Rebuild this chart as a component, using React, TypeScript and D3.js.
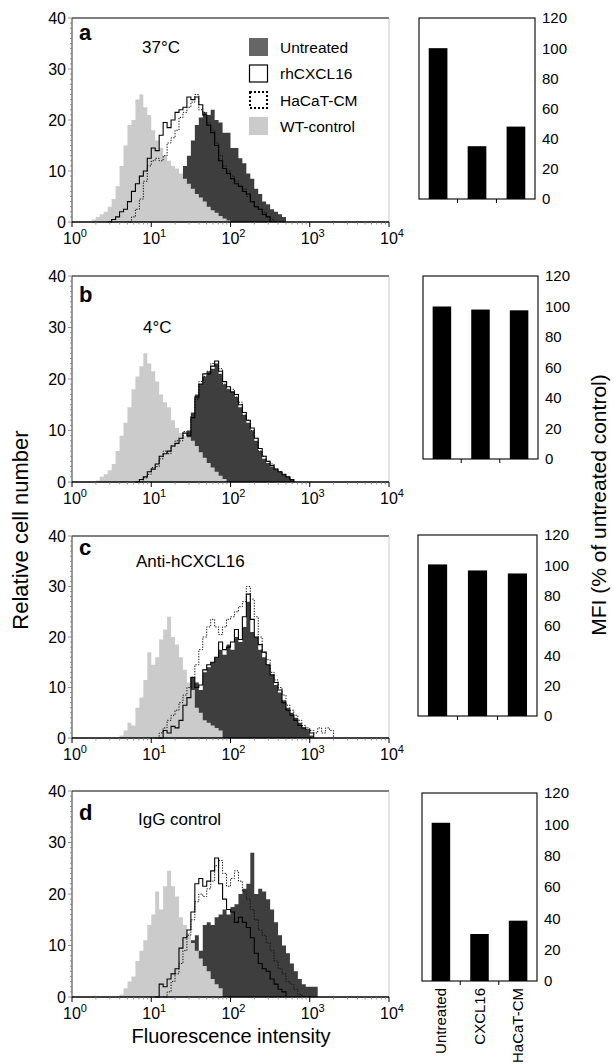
import * as React from "react"
import * as d3 from "d3"

const WIDTH = 614
const HEIGHT = 1064
const FONT = "'Liberation Sans', Arial, Helvetica, sans-serif"

// histogram channels are 0.05 decade wide; *From = log10 of the first channel
const STEP = 0.05

// panel a, 37°C
const aUntreatedFrom = 1.0
const aUntreated = [1, 1.5, 2, 3, 4, 5.5, 7, 9, 11, 13, 16, 19, 20.5, 21.5, 21, 22, 20, 19.5, 17.5, 17.5, 14.5, 14.5, 12.5, 11.5, 9.5, 8.5, 6.5, 5.5, 4, 3.5, 2.5, 2, 1.5, 1, 0]
const aRhFrom = 0.45
const aRh = [0, 0.5, 1, 2, 2.5, 4, 6, 7.5, 9, 10, 12.5, 14.5, 14, 17, 19.5, 18.5, 20, 21.5, 22, 22.5, 24.5, 24, 24.5, 23, 21, 19, 17.5, 15, 12, 10.5, 9.5, 8.5, 7.5, 7, 6, 5.5, 4, 3, 2.5, 1.5, 1, 0]
const aHacatFrom = 0.7
const aHacat = [0, 1, 2.5, 4.5, 8, 11, 12, 12.5, 12, 13, 15.5, 16.5, 18, 20.5, 21.5, 22.5, 23.5, 25, 22, 21.5, 19.5, 18, 15.5, 13, 11, 10, 9, 8, 7, 6.5, 5, 4, 3, 2.5, 2, 1, 0.5, 0]
const aWtFrom = 0.25
const aWt = [0.5, 1, 1.5, 2, 3, 4.5, 7, 11, 15, 19, 20, 24, 25, 22.5, 21, 18, 16, 14.5, 13, 12, 11, 10.5, 9.5, 8.5, 7.5, 6.5, 5.5, 4.8, 4, 3, 2.3, 1.8, 1.2, 0.7, 0.3, 0]

// panel b, 4°C
const bUntreatedFrom = 1.0
const bUntreated = [0.5, 1, 2, 3, 4, 5, 6, 7.5, 8.5, 10, 13.5, 17, 19, 20.5, 21.5, 22, 23, 21, 19, 18, 17.5, 16.5, 14.5, 13, 11.5, 10, 8, 6, 4.5, 3.7, 3, 2.5, 2, 1.5, 1, 0.5, 0]
const bRhFrom = 0.8
const bRh = [0, 0.5, 1, 2, 2.5, 3.5, 5, 5.5, 6, 7, 7.5, 8.5, 9.5, 9, 12.5, 16.5, 19, 21, 21, 22.5, 23.5, 21.5, 19.5, 18.5, 17.5, 17, 15, 13.5, 12, 10.5, 8.5, 6.5, 5, 4, 3.2, 2.5, 2, 1.5, 1, 0.5, 0]
const bHacatFrom = 0.85
const bHacat = [0, 0.8, 1.5, 2.8, 3, 4.5, 6, 5.5, 7, 8, 8, 9.8, 9.5, 13, 16, 19.5, 20.5, 21.5, 23, 22.5, 22, 19, 18, 18, 16.5, 15.5, 13, 12, 10, 8.5, 6, 5, 4, 3.5, 2.5, 2, 1.3, 1, 0.3, 0]
const bWtFrom = 0.3
const bWt = [0.3, 1, 1.5, 2.3, 3.5, 6, 9, 11.5, 14.5, 18, 20.5, 22.5, 25, 23, 21.5, 19.5, 17, 15.5, 14.5, 12, 10.5, 9.5, 9, 8.7, 8, 7, 5.8, 4.7, 3.7, 2.8, 2, 1.2, 0.6, 0]

// panel c, Anti-hCXCL16
const cUntreatedFrom = 1.2
const cUntreated = [1, 2, 3, 4.5, 6, 8, 12, 11, 9.5, 13, 14, 15, 16, 17.5, 16.5, 18.5, 17.5, 20, 19, 22, 27, 21, 20, 17.5, 16, 14.5, 12.5, 10.5, 9, 7.5, 6, 5, 4, 3, 2, 1.5, 0.5, 0]
const cRhFrom = 1.1
const cRh = [0, 1.5, 1, 2.3, 2, 3.5, 6.5, 8, 12, 10, 10.5, 13.5, 14.5, 15, 16, 19, 17.5, 18, 19, 21.5, 19.5, 24, 28.5, 23.5, 20, 18.5, 17, 14.5, 12.5, 11, 9.5, 7, 5.5, 4.5, 3.5, 2.5, 2, 1.6, 1, 0]
const cHacatFrom = 1.05
const cHacat = [0, 1, 2, 3.5, 4.5, 5.5, 7, 8.5, 10, 12, 14.5, 17.5, 20, 22, 23.5, 22, 20.5, 22, 23.5, 24, 25, 26, 27, 30, 27.5, 24, 20, 17, 15.5, 13, 11.5, 10, 8.5, 6.5, 5.5, 4.5, 3.5, 2.5, 2, 1.5, 1, 2, 1, 2, 1.5, 0]
const cWtFrom = 0.6
const cWt = [0.5, 1.5, 3, 2.5, 6, 8, 11.5, 17, 14.5, 16, 19.5, 21.5, 24, 20, 18.5, 16, 13.5, 11, 9.5, 6, 5, 3.5, 3, 2.5, 2, 1.5, 0]

// panel d, IgG control
const dUntreatedFrom = 1.2
const dUntreated = [1, 2, 3.5, 5, 7, 9, 11, 12, 9, 14, 14.5, 14, 15.5, 16, 17, 16, 17.5, 18, 20, 21, 22, 28, 20, 21, 20.5, 19, 17, 14.5, 12, 10, 8.5, 6.5, 5, 3.5, 2.5, 2, 2, 2, 0]
const dRhFrom = 1.05
const dRh = [0, 2.5, 2, 3.5, 4.5, 5.5, 9.5, 11.5, 13, 16.5, 22, 23, 21.5, 22.5, 24.5, 27, 22, 19, 17, 16.5, 14.5, 15.5, 14.5, 13.5, 11.5, 8.5, 6.5, 5.5, 5, 3.5, 2.5, 1.5, 1, 0]
const dHacatFrom = 1.15
const dHacat = [0, 1, 3, 4.5, 6.5, 9, 12, 15, 18.5, 20, 19.5, 21, 22.5, 25.5, 26.5, 24, 21.5, 23, 24.5, 22.5, 20.5, 19, 17, 15, 13, 12, 10.5, 9, 7, 5.5, 4.5, 3, 2.5, 1.5, 0.5, 0]
const dWtFrom = 0.6
const dWt = [0.5, 1.7, 3, 4, 7, 9, 11, 14, 16, 20.5, 17, 21.5, 24.5, 21.5, 19.5, 15.5, 14, 12.5, 10.5, 9, 7.5, 6, 5, 3.5, 2.5, 1.7, 0]

// MFI, % of untreated control
const barCategories = ["Untreated", "CXCL16", "HaCaT-CM"]
const barsA = [100, 35, 48]
const barsB = [100, 98, 97.5]
const barsC = [100.5, 96.5, 94.5]
const barsD = [101, 30, 38.5]

const legendItems = ["Untreated", "rhCXCL16", "HaCaT-CM", "WT-control"]
const yTicks = [0, 10, 20, 30, 40]
const xDecades = [0, 1, 2, 3, 4]
const barTicks = [0, 20, 40, 60, 80, 100, 120]

const DARK = "#3e3e3e"
const LIGHT = "#cbcbcb"

const HX0 = 72
const HX1 = 389

type Pt = [number, number]

const toPoints = (from: number, counts: number[]): Pt[] =>
  counts.map((c, i) => [Math.pow(10, from + i * STEP), c] as Pt)

const panels = [
  {
    letter: "a", label: "37°C", top: 18, bottom: 222, letterY: 40, labelX: 142, labelY: 53,
    untreated: toPoints(aUntreatedFrom, aUntreated), rh: toPoints(aRhFrom, aRh),
    hacat: toPoints(aHacatFrom, aHacat), wt: toPoints(aWtFrom, aWt),
    bars: barsA, box: { x0: 419, x1: 535, y0: 18, y1: 199 }, legend: true,
  },
  {
    letter: "b", label: "4°C", top: 276, bottom: 482, letterY: 302, labelX: 143, labelY: 333,
    untreated: toPoints(bUntreatedFrom, bUntreated), rh: toPoints(bRhFrom, bRh),
    hacat: toPoints(bHacatFrom, bHacat), wt: toPoints(bWtFrom, bWt),
    bars: barsB, box: { x0: 423, x1: 538, y0: 276, y1: 459 },
  },
  {
    letter: "c", label: "Anti-hCXCL16", top: 536, bottom: 738, letterY: 555, labelX: 136, labelY: 567,
    untreated: toPoints(cUntreatedFrom, cUntreated), rh: toPoints(cRhFrom, cRh),
    hacat: toPoints(cHacatFrom, cHacat), wt: toPoints(cWtFrom, cWt),
    bars: barsC, box: { x0: 418, x1: 537, y0: 535, y1: 716 },
  },
  {
    letter: "d", label: "IgG control", top: 791, bottom: 997, letterY: 820, labelX: 138, labelY: 825,
    untreated: toPoints(dUntreatedFrom, dUntreated), rh: toPoints(dRhFrom, dRh),
    hacat: toPoints(dHacatFrom, dHacat), wt: toPoints(dWtFrom, dWt),
    bars: barsD, box: { x0: 422, x1: 537, y0: 793, y1: 981 }, categories: true,
  },
]

function Histogram({ p }: { p: any }) {
  const x = d3.scaleLog().domain([1, 1e4]).range([HX0, HX1])
  const y = d3.scaleLinear().domain([0, 40]).range([p.bottom, p.top])

  const area = d3
    .area<Pt>()
    .x(d => x(d[0]))
    .y0(y(0))
    .y1(d => y(d[1]))
    .curve(d3.curveStepAfter)
  const line = d3
    .line<Pt>()
    .x(d => x(d[0]))
    .y(d => y(d[1]))
    .curve(d3.curveStepAfter)

  const minorY = d3.range(0, 41)
  const minorX: number[] = []
  for (let dec = 0; dec < 4; dec++) {
    for (let k = 2; k <= 9; k++) minorX.push(k * Math.pow(10, dec))
  }

  return (
    <g>
      <path d={area(p.untreated) || ""} fill={DARK} />
      <path d={area(p.wt) || ""} fill={LIGHT} />
      <path d={line(p.hacat) || ""} fill="none" stroke="#111" strokeWidth={1} strokeDasharray="1.3,1.4" />
      <path d={line(p.rh) || ""} fill="none" stroke="#000" strokeWidth={1.1} />

      {/* frame */}
      <line x1={HX0} x2={HX1} y1={p.top} y2={p.top} stroke="#000" strokeWidth={1.2} />
      <line x1={HX1} x2={HX1} y1={p.top} y2={p.bottom} stroke="#bbb" strokeWidth={0.8} />
      <line x1={HX0} x2={HX0} y1={p.top} y2={p.bottom} stroke="#333" strokeWidth={1} />
      <line x1={HX0} x2={HX1} y1={p.bottom} y2={p.bottom} stroke="#000" strokeWidth={1.6} />

      {minorY.map(t => (
        <line key={"my" + t} x1={HX0} x2={HX0 - (t % 10 === 0 ? 4 : 2)} y1={y(t)} y2={y(t)} stroke="#777" strokeWidth={0.8} />
      ))}
      {minorX.map(t => (
        <line key={"mx" + t} x1={x(t)} x2={x(t)} y1={p.bottom} y2={p.bottom + 2.5} stroke="#777" strokeWidth={0.8} />
      ))}
      {xDecades.map(e => (
        <line key={"xd" + e} x1={x(Math.pow(10, e))} x2={x(Math.pow(10, e))} y1={p.bottom} y2={p.bottom + 5} stroke="#000" strokeWidth={1} />
      ))}

      {yTicks.map(t => (
        <text key={"yl" + t} x={HX0 - 6} y={y(t)} dy="0.36em" textAnchor="end" fontSize={16}>
          {t}
        </text>
      ))}
      {xDecades.map(e => (
        <text key={"xl" + e} x={x(Math.pow(10, e)) + 3} y={p.bottom + 22} textAnchor="middle" fontSize={16}>
          10
          <tspan dy={-7} fontSize={11}>{e}</tspan>
        </text>
      ))}

      <text x={79} y={p.letterY} fontSize={22} fontWeight="bold">
        {p.letter}
      </text>
      <text x={p.labelX} y={p.labelY} fontSize={17}>
        {p.label}
      </text>

      {p.legend && <Legend />}
    </g>
  )
}

function Legend() {
  const rows = [47, 73.5, 100, 126]
  return (
    <g>
      {legendItems.map((name, i) => {
        const cy = rows[i]
        let swatch
        if (i === 0) swatch = <rect x={249} y={cy - 9} width={19} height={18} fill="#666" />
        else if (i === 1) swatch = <rect x={249.5} y={cy - 8.5} width={18} height={17} fill="#fff" stroke="#000" strokeWidth={1.2} />
        else if (i === 2)
          swatch = (
            <rect x={250} y={cy - 8} width={17} height={16} fill="#fff" stroke="#000" strokeWidth={2} strokeDasharray="2,2" />
          )
        else swatch = <rect x={249} y={cy - 9} width={19} height={18} fill={LIGHT} />
        return (
          <g key={name}>
            {swatch}
            <text x={280} y={cy} dy="0.36em" fontSize={15.5}>
              {name}
            </text>
          </g>
        )
      })}
    </g>
  )
}

function Bars({ p }: { p: any }) {
  const { x0, x1, y0, y1 } = p.box
  const x = d3.scaleBand().domain(barCategories).range([x0, x1]).paddingInner(0.52).paddingOuter(0.25)
  const y = d3.scaleLinear().domain([0, 120]).range([y1, y0])
  const step = x.step()

  return (
    <g>
      {barCategories.map((c, i) => (
        <rect key={c} x={x(c)} y={y(p.bars[i])} width={x.bandwidth()} height={y(0) - y(p.bars[i])} fill="#000" />
      ))}
      <rect x={x0} y={y0} width={x1 - x0} height={y1 - y0} fill="none" stroke="#000" strokeWidth={1.1} />
      {barCategories.slice(1).map(c => {
        const tx = (x(c) as number) - (step - x.bandwidth()) / 2
        return <line key={"bt" + c} x1={tx} x2={tx} y1={y1} y2={y1 + 4} stroke="#000" strokeWidth={1} />
      })}
      {barTicks.map(t => (
        <text key={"bl" + t} x={x1 + 7} y={y(t)} dy="0.36em" fontSize={15}>
          {t}
        </text>
      ))}
      {p.categories &&
        barCategories.map(c => {
          const cx = (x(c) as number) + x.bandwidth() / 2 + 5
          return (
            <text key={"cat" + c} transform={`translate(${cx},${y1 + 7}) rotate(-90)`} textAnchor="end" fontSize={15}>
              {c}
            </text>
          )
        })}
    </g>
  )
}

export default function App() {
  return (
    <svg
      width={WIDTH}
      height={HEIGHT}
      style={{ position: "absolute", left: 0, top: 0, background: "#fff" }}
      fontFamily={FONT}
      fill="#000"
    >
      <rect width={WIDTH} height={HEIGHT} fill="#fff" />
      {panels.map(p => (
        <g key={p.letter}>
          <Histogram p={p} />
          <Bars p={p} />
        </g>
      ))}
      <text transform="translate(28,530) rotate(-90)" textAnchor="middle" fontSize={22}>
        Relative cell number
      </text>
      <text transform="translate(606,505) rotate(-90)" textAnchor="middle" fontSize={21}>
        MFI (% of untreated control)
      </text>
      <text x={231} y={1043} textAnchor="middle" fontSize={20}>
        Fluorescence intensity
      </text>
    </svg>
  )
}
